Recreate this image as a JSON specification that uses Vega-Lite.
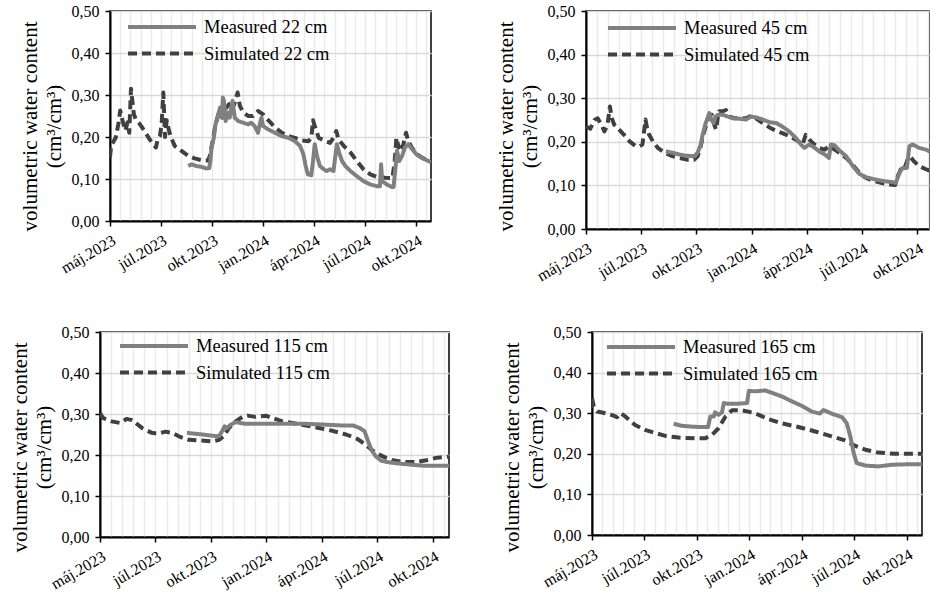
{
  "$schema": "https://vega.github.io/schema/vega-lite/v6.json",
  "background": "white",
  "padding": {"left": 7, "top": 2, "right": 0, "bottom": 0},
  "config": {
    "font": "Liberation Serif",
    "view": {"stroke": "#000", "strokeWidth": 1.5},
    "axis": {
      "labelFont": "Liberation Serif", "labelFontSize": 16, "labelColor": "#000",
      "titleFont": "Liberation Serif", "titleFontSize": 21, "titleFontWeight": "normal", "titleColor": "#000",
      "domainColor": "#000", "domainWidth": 2, "tickColor": "#000", "tickWidth": 1.5, "tickSize": 5
    },
    "axisX": {"gridColor": "#ebebeb", "gridWidth": 1.5, "labelAngle": -30, "labelOverlap": false, "labelFlush": false, "labelPadding": 6},
    "axisY": {"gridColor": "#d9d9d9", "gridWidth": 1.5, "labelPadding": 6, "titlePadding": 7, "titleLineHeight": 24, "titleY": 115},
    "legend": {
      "labelFont": "Liberation Serif", "labelFontSize": 18.5, "labelColor": "#000",
      "symbolSize": 4624, "symbolStrokeWidth": 4, "clipHeight": 20, "rowPadding": 6.5,
      "labelOffset": 6, "padding": 0
    },
    "line": {"strokeWidth": 4, "strokeJoin": "round"}
  },
  "datasets": {
    "d22": [
      {"d": "2023-05-01", "v": 0.152, "s": "Simulated 22 cm"},
      {"d": "2023-05-03", "v": 0.179, "s": "Simulated 22 cm"},
      {"d": "2023-05-11", "v": 0.198, "s": "Simulated 22 cm"},
      {"d": "2023-05-16", "v": 0.233, "s": "Simulated 22 cm"},
      {"d": "2023-05-19", "v": 0.263, "s": "Simulated 22 cm"},
      {"d": "2023-05-23", "v": 0.240, "s": "Simulated 22 cm"},
      {"d": "2023-05-28", "v": 0.215, "s": "Simulated 22 cm"},
      {"d": "2023-06-01", "v": 0.235, "s": "Simulated 22 cm"},
      {"d": "2023-06-04", "v": 0.210, "s": "Simulated 22 cm"},
      {"d": "2023-06-07", "v": 0.315, "s": "Simulated 22 cm"},
      {"d": "2023-06-09", "v": 0.290, "s": "Simulated 22 cm"},
      {"d": "2023-06-12", "v": 0.255, "s": "Simulated 22 cm"},
      {"d": "2023-06-16", "v": 0.240, "s": "Simulated 22 cm"},
      {"d": "2023-06-22", "v": 0.232, "s": "Simulated 22 cm"},
      {"d": "2023-07-01", "v": 0.214, "s": "Simulated 22 cm"},
      {"d": "2023-07-10", "v": 0.194, "s": "Simulated 22 cm"},
      {"d": "2023-07-21", "v": 0.175, "s": "Simulated 22 cm"},
      {"d": "2023-07-24", "v": 0.194, "s": "Simulated 22 cm"},
      {"d": "2023-07-28", "v": 0.202, "s": "Simulated 22 cm"},
      {"d": "2023-07-31", "v": 0.230, "s": "Simulated 22 cm"},
      {"d": "2023-08-03", "v": 0.306, "s": "Simulated 22 cm"},
      {"d": "2023-08-06", "v": 0.200, "s": "Simulated 22 cm"},
      {"d": "2023-08-09", "v": 0.240, "s": "Simulated 22 cm"},
      {"d": "2023-08-13", "v": 0.215, "s": "Simulated 22 cm"},
      {"d": "2023-08-17", "v": 0.198, "s": "Simulated 22 cm"},
      {"d": "2023-08-23", "v": 0.179, "s": "Simulated 22 cm"},
      {"d": "2023-09-04", "v": 0.167, "s": "Simulated 22 cm"},
      {"d": "2023-09-16", "v": 0.155, "s": "Simulated 22 cm"},
      {"d": "2023-09-27", "v": 0.149, "s": "Simulated 22 cm"},
      {"d": "2023-10-12", "v": 0.144, "s": "Simulated 22 cm"},
      {"d": "2023-10-21", "v": 0.144, "s": "Simulated 22 cm"},
      {"d": "2023-10-24", "v": 0.155, "s": "Simulated 22 cm"},
      {"d": "2023-10-29", "v": 0.190, "s": "Simulated 22 cm"},
      {"d": "2023-11-02", "v": 0.222, "s": "Simulated 22 cm"},
      {"d": "2023-11-08", "v": 0.254, "s": "Simulated 22 cm"},
      {"d": "2023-11-12", "v": 0.262, "s": "Simulated 22 cm"},
      {"d": "2023-11-16", "v": 0.246, "s": "Simulated 22 cm"},
      {"d": "2023-11-22", "v": 0.270, "s": "Simulated 22 cm"},
      {"d": "2023-11-27", "v": 0.278, "s": "Simulated 22 cm"},
      {"d": "2023-12-01", "v": 0.262, "s": "Simulated 22 cm"},
      {"d": "2023-12-06", "v": 0.278, "s": "Simulated 22 cm"},
      {"d": "2023-12-12", "v": 0.306, "s": "Simulated 22 cm"},
      {"d": "2023-12-16", "v": 0.274, "s": "Simulated 22 cm"},
      {"d": "2023-12-22", "v": 0.258, "s": "Simulated 22 cm"},
      {"d": "2023-12-31", "v": 0.250, "s": "Simulated 22 cm"},
      {"d": "2024-01-08", "v": 0.250, "s": "Simulated 22 cm"},
      {"d": "2024-01-17", "v": 0.262, "s": "Simulated 22 cm"},
      {"d": "2024-01-26", "v": 0.254, "s": "Simulated 22 cm"},
      {"d": "2024-02-04", "v": 0.240, "s": "Simulated 22 cm"},
      {"d": "2024-02-16", "v": 0.223, "s": "Simulated 22 cm"},
      {"d": "2024-02-28", "v": 0.210, "s": "Simulated 22 cm"},
      {"d": "2024-03-11", "v": 0.202, "s": "Simulated 22 cm"},
      {"d": "2024-03-22", "v": 0.198, "s": "Simulated 22 cm"},
      {"d": "2024-04-03", "v": 0.192, "s": "Simulated 22 cm"},
      {"d": "2024-04-15", "v": 0.190, "s": "Simulated 22 cm"},
      {"d": "2024-04-20", "v": 0.198, "s": "Simulated 22 cm"},
      {"d": "2024-04-23", "v": 0.240, "s": "Simulated 22 cm"},
      {"d": "2024-04-27", "v": 0.222, "s": "Simulated 22 cm"},
      {"d": "2024-05-03", "v": 0.198, "s": "Simulated 22 cm"},
      {"d": "2024-05-12", "v": 0.192, "s": "Simulated 22 cm"},
      {"d": "2024-05-23", "v": 0.186, "s": "Simulated 22 cm"},
      {"d": "2024-05-29", "v": 0.198, "s": "Simulated 22 cm"},
      {"d": "2024-06-03", "v": 0.214, "s": "Simulated 22 cm"},
      {"d": "2024-06-07", "v": 0.194, "s": "Simulated 22 cm"},
      {"d": "2024-06-16", "v": 0.179, "s": "Simulated 22 cm"},
      {"d": "2024-06-28", "v": 0.163, "s": "Simulated 22 cm"},
      {"d": "2024-07-09", "v": 0.143, "s": "Simulated 22 cm"},
      {"d": "2024-07-21", "v": 0.123, "s": "Simulated 22 cm"},
      {"d": "2024-08-02", "v": 0.111, "s": "Simulated 22 cm"},
      {"d": "2024-08-13", "v": 0.105, "s": "Simulated 22 cm"},
      {"d": "2024-08-28", "v": 0.103, "s": "Simulated 22 cm"},
      {"d": "2024-09-10", "v": 0.102, "s": "Simulated 22 cm"},
      {"d": "2024-09-14", "v": 0.143, "s": "Simulated 22 cm"},
      {"d": "2024-09-17", "v": 0.198, "s": "Simulated 22 cm"},
      {"d": "2024-09-21", "v": 0.175, "s": "Simulated 22 cm"},
      {"d": "2024-09-26", "v": 0.186, "s": "Simulated 22 cm"},
      {"d": "2024-09-28", "v": 0.175, "s": "Simulated 22 cm"},
      {"d": "2024-10-04", "v": 0.210, "s": "Simulated 22 cm"},
      {"d": "2024-10-08", "v": 0.190, "s": "Simulated 22 cm"},
      {"d": "2024-10-14", "v": 0.175, "s": "Simulated 22 cm"},
      {"d": "2024-10-23", "v": 0.159, "s": "Simulated 22 cm"},
      {"d": "2024-11-01", "v": 0.151, "s": "Simulated 22 cm"},
      {"d": "2024-11-17", "v": 0.141, "s": "Simulated 22 cm"},
      {"d": "2023-09-16", "v": 0.131, "s": "Measured 22 cm"},
      {"d": "2023-09-22", "v": 0.135, "s": "Measured 22 cm"},
      {"d": "2023-09-30", "v": 0.131, "s": "Measured 22 cm"},
      {"d": "2023-10-09", "v": 0.129, "s": "Measured 22 cm"},
      {"d": "2023-10-18", "v": 0.125, "s": "Measured 22 cm"},
      {"d": "2023-10-23", "v": 0.126, "s": "Measured 22 cm"},
      {"d": "2023-10-25", "v": 0.143, "s": "Measured 22 cm"},
      {"d": "2023-10-27", "v": 0.175, "s": "Measured 22 cm"},
      {"d": "2023-10-31", "v": 0.198, "s": "Measured 22 cm"},
      {"d": "2023-11-03", "v": 0.230, "s": "Measured 22 cm"},
      {"d": "2023-11-08", "v": 0.254, "s": "Measured 22 cm"},
      {"d": "2023-11-11", "v": 0.270, "s": "Measured 22 cm"},
      {"d": "2023-11-14", "v": 0.246, "s": "Measured 22 cm"},
      {"d": "2023-11-16", "v": 0.294, "s": "Measured 22 cm"},
      {"d": "2023-11-18", "v": 0.286, "s": "Measured 22 cm"},
      {"d": "2023-11-21", "v": 0.238, "s": "Measured 22 cm"},
      {"d": "2023-11-25", "v": 0.258, "s": "Measured 22 cm"},
      {"d": "2023-11-28", "v": 0.246, "s": "Measured 22 cm"},
      {"d": "2023-12-03", "v": 0.286, "s": "Measured 22 cm"},
      {"d": "2023-12-07", "v": 0.246, "s": "Measured 22 cm"},
      {"d": "2023-12-13", "v": 0.238, "s": "Measured 22 cm"},
      {"d": "2023-12-22", "v": 0.234, "s": "Measured 22 cm"},
      {"d": "2023-12-31", "v": 0.230, "s": "Measured 22 cm"},
      {"d": "2024-01-05", "v": 0.234, "s": "Measured 22 cm"},
      {"d": "2024-01-11", "v": 0.226, "s": "Measured 22 cm"},
      {"d": "2024-01-17", "v": 0.210, "s": "Measured 22 cm"},
      {"d": "2024-01-20", "v": 0.230, "s": "Measured 22 cm"},
      {"d": "2024-01-23", "v": 0.246, "s": "Measured 22 cm"},
      {"d": "2024-01-26", "v": 0.226, "s": "Measured 22 cm"},
      {"d": "2024-02-04", "v": 0.218, "s": "Measured 22 cm"},
      {"d": "2024-02-16", "v": 0.210, "s": "Measured 22 cm"},
      {"d": "2024-02-28", "v": 0.202, "s": "Measured 22 cm"},
      {"d": "2024-03-11", "v": 0.198, "s": "Measured 22 cm"},
      {"d": "2024-03-22", "v": 0.190, "s": "Measured 22 cm"},
      {"d": "2024-03-31", "v": 0.179, "s": "Measured 22 cm"},
      {"d": "2024-04-06", "v": 0.159, "s": "Measured 22 cm"},
      {"d": "2024-04-10", "v": 0.131, "s": "Measured 22 cm"},
      {"d": "2024-04-14", "v": 0.111, "s": "Measured 22 cm"},
      {"d": "2024-04-20", "v": 0.109, "s": "Measured 22 cm"},
      {"d": "2024-04-23", "v": 0.143, "s": "Measured 22 cm"},
      {"d": "2024-04-26", "v": 0.183, "s": "Measured 22 cm"},
      {"d": "2024-04-30", "v": 0.155, "s": "Measured 22 cm"},
      {"d": "2024-05-05", "v": 0.131, "s": "Measured 22 cm"},
      {"d": "2024-05-12", "v": 0.123, "s": "Measured 22 cm"},
      {"d": "2024-05-17", "v": 0.119, "s": "Measured 22 cm"},
      {"d": "2024-05-23", "v": 0.123, "s": "Measured 22 cm"},
      {"d": "2024-05-29", "v": 0.119, "s": "Measured 22 cm"},
      {"d": "2024-06-01", "v": 0.151, "s": "Measured 22 cm"},
      {"d": "2024-06-04", "v": 0.183, "s": "Measured 22 cm"},
      {"d": "2024-06-08", "v": 0.163, "s": "Measured 22 cm"},
      {"d": "2024-06-13", "v": 0.143, "s": "Measured 22 cm"},
      {"d": "2024-06-19", "v": 0.131, "s": "Measured 22 cm"},
      {"d": "2024-06-28", "v": 0.119, "s": "Measured 22 cm"},
      {"d": "2024-07-09", "v": 0.107, "s": "Measured 22 cm"},
      {"d": "2024-07-21", "v": 0.095, "s": "Measured 22 cm"},
      {"d": "2024-08-02", "v": 0.087, "s": "Measured 22 cm"},
      {"d": "2024-08-13", "v": 0.083, "s": "Measured 22 cm"},
      {"d": "2024-08-19", "v": 0.083, "s": "Measured 22 cm"},
      {"d": "2024-08-21", "v": 0.135, "s": "Measured 22 cm"},
      {"d": "2024-08-23", "v": 0.095, "s": "Measured 22 cm"},
      {"d": "2024-08-31", "v": 0.087, "s": "Measured 22 cm"},
      {"d": "2024-09-09", "v": 0.081, "s": "Measured 22 cm"},
      {"d": "2024-09-12", "v": 0.081, "s": "Measured 22 cm"},
      {"d": "2024-09-16", "v": 0.135, "s": "Measured 22 cm"},
      {"d": "2024-09-18", "v": 0.167, "s": "Measured 22 cm"},
      {"d": "2024-09-22", "v": 0.143, "s": "Measured 22 cm"},
      {"d": "2024-09-27", "v": 0.155, "s": "Measured 22 cm"},
      {"d": "2024-10-02", "v": 0.175, "s": "Measured 22 cm"},
      {"d": "2024-10-08", "v": 0.183, "s": "Measured 22 cm"},
      {"d": "2024-10-14", "v": 0.172, "s": "Measured 22 cm"},
      {"d": "2024-10-23", "v": 0.158, "s": "Measured 22 cm"},
      {"d": "2024-11-01", "v": 0.150, "s": "Measured 22 cm"},
      {"d": "2024-11-17", "v": 0.140, "s": "Measured 22 cm"}
    ],
    "d45": [
      {"d": "2023-05-01", "v": 0.235, "s": "Simulated 45 cm"},
      {"d": "2023-05-08", "v": 0.230, "s": "Simulated 45 cm"},
      {"d": "2023-05-15", "v": 0.250, "s": "Simulated 45 cm"},
      {"d": "2023-05-20", "v": 0.254, "s": "Simulated 45 cm"},
      {"d": "2023-05-26", "v": 0.239, "s": "Simulated 45 cm"},
      {"d": "2023-05-31", "v": 0.224, "s": "Simulated 45 cm"},
      {"d": "2023-06-05", "v": 0.239, "s": "Simulated 45 cm"},
      {"d": "2023-06-09", "v": 0.281, "s": "Simulated 45 cm"},
      {"d": "2023-06-12", "v": 0.254, "s": "Simulated 45 cm"},
      {"d": "2023-06-16", "v": 0.239, "s": "Simulated 45 cm"},
      {"d": "2023-06-24", "v": 0.228, "s": "Simulated 45 cm"},
      {"d": "2023-07-02", "v": 0.216, "s": "Simulated 45 cm"},
      {"d": "2023-07-11", "v": 0.201, "s": "Simulated 45 cm"},
      {"d": "2023-07-21", "v": 0.190, "s": "Simulated 45 cm"},
      {"d": "2023-07-27", "v": 0.190, "s": "Simulated 45 cm"},
      {"d": "2023-08-01", "v": 0.194, "s": "Simulated 45 cm"},
      {"d": "2023-08-06", "v": 0.251, "s": "Simulated 45 cm"},
      {"d": "2023-08-08", "v": 0.235, "s": "Simulated 45 cm"},
      {"d": "2023-08-12", "v": 0.216, "s": "Simulated 45 cm"},
      {"d": "2023-08-18", "v": 0.201, "s": "Simulated 45 cm"},
      {"d": "2023-08-26", "v": 0.186, "s": "Simulated 45 cm"},
      {"d": "2023-09-06", "v": 0.175, "s": "Simulated 45 cm"},
      {"d": "2023-09-17", "v": 0.168, "s": "Simulated 45 cm"},
      {"d": "2023-09-30", "v": 0.163, "s": "Simulated 45 cm"},
      {"d": "2023-10-14", "v": 0.159, "s": "Simulated 45 cm"},
      {"d": "2023-10-24", "v": 0.159, "s": "Simulated 45 cm"},
      {"d": "2023-10-30", "v": 0.167, "s": "Simulated 45 cm"},
      {"d": "2023-11-04", "v": 0.190, "s": "Simulated 45 cm"},
      {"d": "2023-11-08", "v": 0.216, "s": "Simulated 45 cm"},
      {"d": "2023-11-13", "v": 0.239, "s": "Simulated 45 cm"},
      {"d": "2023-11-17", "v": 0.258, "s": "Simulated 45 cm"},
      {"d": "2023-11-22", "v": 0.262, "s": "Simulated 45 cm"},
      {"d": "2023-11-26", "v": 0.239, "s": "Simulated 45 cm"},
      {"d": "2023-11-29", "v": 0.228, "s": "Simulated 45 cm"},
      {"d": "2023-12-02", "v": 0.258, "s": "Simulated 45 cm"},
      {"d": "2023-12-04", "v": 0.270, "s": "Simulated 45 cm"},
      {"d": "2023-12-10", "v": 0.270, "s": "Simulated 45 cm"},
      {"d": "2023-12-15", "v": 0.273, "s": "Simulated 45 cm"},
      {"d": "2023-12-21", "v": 0.258, "s": "Simulated 45 cm"},
      {"d": "2023-12-29", "v": 0.254, "s": "Simulated 45 cm"},
      {"d": "2024-01-06", "v": 0.254, "s": "Simulated 45 cm"},
      {"d": "2024-01-17", "v": 0.254, "s": "Simulated 45 cm"},
      {"d": "2024-01-25", "v": 0.260, "s": "Simulated 45 cm"},
      {"d": "2024-02-02", "v": 0.254, "s": "Simulated 45 cm"},
      {"d": "2024-02-13", "v": 0.243, "s": "Simulated 45 cm"},
      {"d": "2024-02-24", "v": 0.233, "s": "Simulated 45 cm"},
      {"d": "2024-03-06", "v": 0.225, "s": "Simulated 45 cm"},
      {"d": "2024-03-16", "v": 0.220, "s": "Simulated 45 cm"},
      {"d": "2024-03-27", "v": 0.213, "s": "Simulated 45 cm"},
      {"d": "2024-04-07", "v": 0.205, "s": "Simulated 45 cm"},
      {"d": "2024-04-18", "v": 0.194, "s": "Simulated 45 cm"},
      {"d": "2024-04-23", "v": 0.216, "s": "Simulated 45 cm"},
      {"d": "2024-04-29", "v": 0.205, "s": "Simulated 45 cm"},
      {"d": "2024-05-07", "v": 0.194, "s": "Simulated 45 cm"},
      {"d": "2024-05-15", "v": 0.186, "s": "Simulated 45 cm"},
      {"d": "2024-05-24", "v": 0.182, "s": "Simulated 45 cm"},
      {"d": "2024-05-31", "v": 0.190, "s": "Simulated 45 cm"},
      {"d": "2024-06-09", "v": 0.182, "s": "Simulated 45 cm"},
      {"d": "2024-06-17", "v": 0.175, "s": "Simulated 45 cm"},
      {"d": "2024-06-28", "v": 0.163, "s": "Simulated 45 cm"},
      {"d": "2024-07-06", "v": 0.152, "s": "Simulated 45 cm"},
      {"d": "2024-07-17", "v": 0.133, "s": "Simulated 45 cm"},
      {"d": "2024-07-28", "v": 0.119, "s": "Simulated 45 cm"},
      {"d": "2024-08-10", "v": 0.111, "s": "Simulated 45 cm"},
      {"d": "2024-08-24", "v": 0.106, "s": "Simulated 45 cm"},
      {"d": "2024-09-06", "v": 0.102, "s": "Simulated 45 cm"},
      {"d": "2024-09-16", "v": 0.101, "s": "Simulated 45 cm"},
      {"d": "2024-09-20", "v": 0.121, "s": "Simulated 45 cm"},
      {"d": "2024-09-25", "v": 0.137, "s": "Simulated 45 cm"},
      {"d": "2024-10-01", "v": 0.139, "s": "Simulated 45 cm"},
      {"d": "2024-10-06", "v": 0.159, "s": "Simulated 45 cm"},
      {"d": "2024-10-10", "v": 0.167, "s": "Simulated 45 cm"},
      {"d": "2024-10-16", "v": 0.156, "s": "Simulated 45 cm"},
      {"d": "2024-10-25", "v": 0.144, "s": "Simulated 45 cm"},
      {"d": "2024-11-05", "v": 0.137, "s": "Simulated 45 cm"},
      {"d": "2024-11-17", "v": 0.130, "s": "Simulated 45 cm"},
      {"d": "2023-09-08", "v": 0.178, "s": "Measured 45 cm"},
      {"d": "2023-09-19", "v": 0.175, "s": "Measured 45 cm"},
      {"d": "2023-09-30", "v": 0.171, "s": "Measured 45 cm"},
      {"d": "2023-10-11", "v": 0.168, "s": "Measured 45 cm"},
      {"d": "2023-10-25", "v": 0.167, "s": "Measured 45 cm"},
      {"d": "2023-10-30", "v": 0.175, "s": "Measured 45 cm"},
      {"d": "2023-11-04", "v": 0.194, "s": "Measured 45 cm"},
      {"d": "2023-11-07", "v": 0.216, "s": "Measured 45 cm"},
      {"d": "2023-11-12", "v": 0.243, "s": "Measured 45 cm"},
      {"d": "2023-11-15", "v": 0.254, "s": "Measured 45 cm"},
      {"d": "2023-11-18", "v": 0.266, "s": "Measured 45 cm"},
      {"d": "2023-11-21", "v": 0.251, "s": "Measured 45 cm"},
      {"d": "2023-11-25", "v": 0.243, "s": "Measured 45 cm"},
      {"d": "2023-11-28", "v": 0.258, "s": "Measured 45 cm"},
      {"d": "2023-12-02", "v": 0.262, "s": "Measured 45 cm"},
      {"d": "2023-12-10", "v": 0.262, "s": "Measured 45 cm"},
      {"d": "2023-12-18", "v": 0.258, "s": "Measured 45 cm"},
      {"d": "2023-12-26", "v": 0.254, "s": "Measured 45 cm"},
      {"d": "2024-01-06", "v": 0.253, "s": "Measured 45 cm"},
      {"d": "2024-01-17", "v": 0.251, "s": "Measured 45 cm"},
      {"d": "2024-01-25", "v": 0.258, "s": "Measured 45 cm"},
      {"d": "2024-02-02", "v": 0.256, "s": "Measured 45 cm"},
      {"d": "2024-02-13", "v": 0.251, "s": "Measured 45 cm"},
      {"d": "2024-02-24", "v": 0.245, "s": "Measured 45 cm"},
      {"d": "2024-03-06", "v": 0.243, "s": "Measured 45 cm"},
      {"d": "2024-03-16", "v": 0.235, "s": "Measured 45 cm"},
      {"d": "2024-03-27", "v": 0.224, "s": "Measured 45 cm"},
      {"d": "2024-04-07", "v": 0.209, "s": "Measured 45 cm"},
      {"d": "2024-04-15", "v": 0.194, "s": "Measured 45 cm"},
      {"d": "2024-04-21", "v": 0.186, "s": "Measured 45 cm"},
      {"d": "2024-04-29", "v": 0.194, "s": "Measured 45 cm"},
      {"d": "2024-05-07", "v": 0.187, "s": "Measured 45 cm"},
      {"d": "2024-05-15", "v": 0.178, "s": "Measured 45 cm"},
      {"d": "2024-05-24", "v": 0.171, "s": "Measured 45 cm"},
      {"d": "2024-05-31", "v": 0.163, "s": "Measured 45 cm"},
      {"d": "2024-06-03", "v": 0.194, "s": "Measured 45 cm"},
      {"d": "2024-06-09", "v": 0.192, "s": "Measured 45 cm"},
      {"d": "2024-06-17", "v": 0.180, "s": "Measured 45 cm"},
      {"d": "2024-06-28", "v": 0.167, "s": "Measured 45 cm"},
      {"d": "2024-07-09", "v": 0.144, "s": "Measured 45 cm"},
      {"d": "2024-07-19", "v": 0.127, "s": "Measured 45 cm"},
      {"d": "2024-07-30", "v": 0.119, "s": "Measured 45 cm"},
      {"d": "2024-08-13", "v": 0.114, "s": "Measured 45 cm"},
      {"d": "2024-08-27", "v": 0.110, "s": "Measured 45 cm"},
      {"d": "2024-09-09", "v": 0.108, "s": "Measured 45 cm"},
      {"d": "2024-09-17", "v": 0.106, "s": "Measured 45 cm"},
      {"d": "2024-09-23", "v": 0.129, "s": "Measured 45 cm"},
      {"d": "2024-09-28", "v": 0.140, "s": "Measured 45 cm"},
      {"d": "2024-10-05", "v": 0.140, "s": "Measured 45 cm"},
      {"d": "2024-10-09", "v": 0.190, "s": "Measured 45 cm"},
      {"d": "2024-10-14", "v": 0.194, "s": "Measured 45 cm"},
      {"d": "2024-10-25", "v": 0.186, "s": "Measured 45 cm"},
      {"d": "2024-11-05", "v": 0.182, "s": "Measured 45 cm"},
      {"d": "2024-11-17", "v": 0.174, "s": "Measured 45 cm"}
    ],
    "d115": [
      {"d": "2023-05-01", "v": 0.302, "s": "Simulated 115 cm"},
      {"d": "2023-05-06", "v": 0.290, "s": "Simulated 115 cm"},
      {"d": "2023-05-20", "v": 0.282, "s": "Simulated 115 cm"},
      {"d": "2023-06-03", "v": 0.278, "s": "Simulated 115 cm"},
      {"d": "2023-06-13", "v": 0.288, "s": "Simulated 115 cm"},
      {"d": "2023-06-22", "v": 0.285, "s": "Simulated 115 cm"},
      {"d": "2023-07-08", "v": 0.266, "s": "Simulated 115 cm"},
      {"d": "2023-07-24", "v": 0.254, "s": "Simulated 115 cm"},
      {"d": "2023-08-04", "v": 0.252, "s": "Simulated 115 cm"},
      {"d": "2023-08-15", "v": 0.257, "s": "Simulated 115 cm"},
      {"d": "2023-08-26", "v": 0.254, "s": "Simulated 115 cm"},
      {"d": "2023-09-08", "v": 0.244, "s": "Simulated 115 cm"},
      {"d": "2023-09-22", "v": 0.237, "s": "Simulated 115 cm"},
      {"d": "2023-10-08", "v": 0.236, "s": "Simulated 115 cm"},
      {"d": "2023-10-30", "v": 0.233, "s": "Simulated 115 cm"},
      {"d": "2023-11-10", "v": 0.237, "s": "Simulated 115 cm"},
      {"d": "2023-11-18", "v": 0.246, "s": "Simulated 115 cm"},
      {"d": "2023-11-26", "v": 0.266, "s": "Simulated 115 cm"},
      {"d": "2023-12-07", "v": 0.282, "s": "Simulated 115 cm"},
      {"d": "2023-12-18", "v": 0.293, "s": "Simulated 115 cm"},
      {"d": "2023-12-26", "v": 0.296, "s": "Simulated 115 cm"},
      {"d": "2024-01-08", "v": 0.293, "s": "Simulated 115 cm"},
      {"d": "2024-01-25", "v": 0.296, "s": "Simulated 115 cm"},
      {"d": "2024-02-05", "v": 0.290, "s": "Simulated 115 cm"},
      {"d": "2024-02-21", "v": 0.282, "s": "Simulated 115 cm"},
      {"d": "2024-03-08", "v": 0.278, "s": "Simulated 115 cm"},
      {"d": "2024-03-30", "v": 0.272, "s": "Simulated 115 cm"},
      {"d": "2024-04-20", "v": 0.266, "s": "Simulated 115 cm"},
      {"d": "2024-05-12", "v": 0.259, "s": "Simulated 115 cm"},
      {"d": "2024-06-03", "v": 0.250, "s": "Simulated 115 cm"},
      {"d": "2024-06-22", "v": 0.239, "s": "Simulated 115 cm"},
      {"d": "2024-07-05", "v": 0.225, "s": "Simulated 115 cm"},
      {"d": "2024-07-16", "v": 0.211, "s": "Simulated 115 cm"},
      {"d": "2024-07-27", "v": 0.201, "s": "Simulated 115 cm"},
      {"d": "2024-08-07", "v": 0.193, "s": "Simulated 115 cm"},
      {"d": "2024-08-18", "v": 0.187, "s": "Simulated 115 cm"},
      {"d": "2024-09-03", "v": 0.183, "s": "Simulated 115 cm"},
      {"d": "2024-09-25", "v": 0.183, "s": "Simulated 115 cm"},
      {"d": "2024-10-11", "v": 0.187, "s": "Simulated 115 cm"},
      {"d": "2024-10-27", "v": 0.193, "s": "Simulated 115 cm"},
      {"d": "2024-11-17", "v": 0.196, "s": "Simulated 115 cm"},
      {"d": "2023-09-19", "v": 0.254, "s": "Measured 115 cm"},
      {"d": "2023-10-08", "v": 0.251, "s": "Measured 115 cm"},
      {"d": "2023-10-30", "v": 0.247, "s": "Measured 115 cm"},
      {"d": "2023-11-10", "v": 0.246, "s": "Measured 115 cm"},
      {"d": "2023-11-15", "v": 0.258, "s": "Measured 115 cm"},
      {"d": "2023-11-19", "v": 0.270, "s": "Measured 115 cm"},
      {"d": "2023-11-23", "v": 0.266, "s": "Measured 115 cm"},
      {"d": "2023-11-29", "v": 0.274, "s": "Measured 115 cm"},
      {"d": "2023-12-07", "v": 0.280, "s": "Measured 115 cm"},
      {"d": "2023-12-23", "v": 0.276, "s": "Measured 115 cm"},
      {"d": "2024-01-25", "v": 0.276, "s": "Measured 115 cm"},
      {"d": "2024-02-26", "v": 0.276, "s": "Measured 115 cm"},
      {"d": "2024-03-30", "v": 0.276, "s": "Measured 115 cm"},
      {"d": "2024-05-01", "v": 0.274, "s": "Measured 115 cm"},
      {"d": "2024-05-28", "v": 0.272, "s": "Measured 115 cm"},
      {"d": "2024-06-14", "v": 0.272, "s": "Measured 115 cm"},
      {"d": "2024-06-25", "v": 0.266, "s": "Measured 115 cm"},
      {"d": "2024-07-03", "v": 0.258, "s": "Measured 115 cm"},
      {"d": "2024-07-08", "v": 0.237, "s": "Measured 115 cm"},
      {"d": "2024-07-14", "v": 0.213, "s": "Measured 115 cm"},
      {"d": "2024-07-21", "v": 0.197, "s": "Measured 115 cm"},
      {"d": "2024-07-30", "v": 0.186, "s": "Measured 115 cm"},
      {"d": "2024-08-12", "v": 0.182, "s": "Measured 115 cm"},
      {"d": "2024-08-29", "v": 0.179, "s": "Measured 115 cm"},
      {"d": "2024-09-19", "v": 0.176, "s": "Measured 115 cm"},
      {"d": "2024-10-06", "v": 0.174, "s": "Measured 115 cm"},
      {"d": "2024-10-22", "v": 0.174, "s": "Measured 115 cm"},
      {"d": "2024-11-17", "v": 0.174, "s": "Measured 115 cm"}
    ],
    "d165": [
      {"d": "2023-05-01", "v": 0.337, "s": "Simulated 165 cm"},
      {"d": "2023-05-04", "v": 0.317, "s": "Simulated 165 cm"},
      {"d": "2023-05-10", "v": 0.304, "s": "Simulated 165 cm"},
      {"d": "2023-05-24", "v": 0.300, "s": "Simulated 165 cm"},
      {"d": "2023-06-07", "v": 0.294, "s": "Simulated 165 cm"},
      {"d": "2023-06-13", "v": 0.290, "s": "Simulated 165 cm"},
      {"d": "2023-06-19", "v": 0.300, "s": "Simulated 165 cm"},
      {"d": "2023-06-27", "v": 0.292, "s": "Simulated 165 cm"},
      {"d": "2023-07-14", "v": 0.271, "s": "Simulated 165 cm"},
      {"d": "2023-07-31", "v": 0.259, "s": "Simulated 165 cm"},
      {"d": "2023-08-18", "v": 0.251, "s": "Simulated 165 cm"},
      {"d": "2023-09-04", "v": 0.244, "s": "Simulated 165 cm"},
      {"d": "2023-09-27", "v": 0.240, "s": "Simulated 165 cm"},
      {"d": "2023-10-25", "v": 0.238, "s": "Simulated 165 cm"},
      {"d": "2023-11-11", "v": 0.238, "s": "Simulated 165 cm"},
      {"d": "2023-11-23", "v": 0.247, "s": "Simulated 165 cm"},
      {"d": "2023-12-04", "v": 0.263, "s": "Simulated 165 cm"},
      {"d": "2023-12-16", "v": 0.292, "s": "Simulated 165 cm"},
      {"d": "2023-12-27", "v": 0.307, "s": "Simulated 165 cm"},
      {"d": "2024-01-13", "v": 0.307, "s": "Simulated 165 cm"},
      {"d": "2024-01-30", "v": 0.302, "s": "Simulated 165 cm"},
      {"d": "2024-02-11", "v": 0.296, "s": "Simulated 165 cm"},
      {"d": "2024-02-28", "v": 0.285, "s": "Simulated 165 cm"},
      {"d": "2024-03-22", "v": 0.275, "s": "Simulated 165 cm"},
      {"d": "2024-04-19", "v": 0.266, "s": "Simulated 165 cm"},
      {"d": "2024-05-18", "v": 0.255, "s": "Simulated 165 cm"},
      {"d": "2024-06-15", "v": 0.243, "s": "Simulated 165 cm"},
      {"d": "2024-07-08", "v": 0.233, "s": "Simulated 165 cm"},
      {"d": "2024-07-25", "v": 0.220, "s": "Simulated 165 cm"},
      {"d": "2024-08-12", "v": 0.210, "s": "Simulated 165 cm"},
      {"d": "2024-09-03", "v": 0.203, "s": "Simulated 165 cm"},
      {"d": "2024-10-02", "v": 0.200, "s": "Simulated 165 cm"},
      {"d": "2024-11-17", "v": 0.200, "s": "Simulated 165 cm"},
      {"d": "2023-09-18", "v": 0.274, "s": "Measured 165 cm"},
      {"d": "2023-10-02", "v": 0.269, "s": "Measured 165 cm"},
      {"d": "2023-10-19", "v": 0.267, "s": "Measured 165 cm"},
      {"d": "2023-10-31", "v": 0.266, "s": "Measured 165 cm"},
      {"d": "2023-11-16", "v": 0.266, "s": "Measured 165 cm"},
      {"d": "2023-11-20", "v": 0.292, "s": "Measured 165 cm"},
      {"d": "2023-11-26", "v": 0.292, "s": "Measured 165 cm"},
      {"d": "2023-11-28", "v": 0.302, "s": "Measured 165 cm"},
      {"d": "2023-12-04", "v": 0.296, "s": "Measured 165 cm"},
      {"d": "2023-12-10", "v": 0.302, "s": "Measured 165 cm"},
      {"d": "2023-12-13", "v": 0.325, "s": "Measured 165 cm"},
      {"d": "2023-12-21", "v": 0.323, "s": "Measured 165 cm"},
      {"d": "2024-01-02", "v": 0.323, "s": "Measured 165 cm"},
      {"d": "2024-01-22", "v": 0.325, "s": "Measured 165 cm"},
      {"d": "2024-01-25", "v": 0.355, "s": "Measured 165 cm"},
      {"d": "2024-02-05", "v": 0.354, "s": "Measured 165 cm"},
      {"d": "2024-02-22", "v": 0.356, "s": "Measured 165 cm"},
      {"d": "2024-03-05", "v": 0.350, "s": "Measured 165 cm"},
      {"d": "2024-03-22", "v": 0.341, "s": "Measured 165 cm"},
      {"d": "2024-04-08", "v": 0.329, "s": "Measured 165 cm"},
      {"d": "2024-04-25", "v": 0.318, "s": "Measured 165 cm"},
      {"d": "2024-05-12", "v": 0.304, "s": "Measured 165 cm"},
      {"d": "2024-05-26", "v": 0.299, "s": "Measured 165 cm"},
      {"d": "2024-06-01", "v": 0.308, "s": "Measured 165 cm"},
      {"d": "2024-06-15", "v": 0.299, "s": "Measured 165 cm"},
      {"d": "2024-07-03", "v": 0.290, "s": "Measured 165 cm"},
      {"d": "2024-07-11", "v": 0.275, "s": "Measured 165 cm"},
      {"d": "2024-07-17", "v": 0.243, "s": "Measured 165 cm"},
      {"d": "2024-07-23", "v": 0.201, "s": "Measured 165 cm"},
      {"d": "2024-07-28", "v": 0.177, "s": "Measured 165 cm"},
      {"d": "2024-08-12", "v": 0.171, "s": "Measured 165 cm"},
      {"d": "2024-09-03", "v": 0.169, "s": "Measured 165 cm"},
      {"d": "2024-09-26", "v": 0.173, "s": "Measured 165 cm"},
      {"d": "2024-10-19", "v": 0.174, "s": "Measured 165 cm"},
      {"d": "2024-11-17", "v": 0.174, "s": "Measured 165 cm"}
    ]
  },
  "resolve": {
    "scale": {"color": "independent", "strokeDash": "independent"},
    "legend": {"color": "independent", "strokeDash": "independent"}
  },
  "vconcat": [
    {
      "spacing": 58,
      "resolve": {
        "scale": {"color": "independent", "strokeDash": "independent"},
        "legend": {"color": "independent", "strokeDash": "independent"}
      },
      "hconcat": [
        {
          "spacing": 0,
          "resolve": {
            "scale": {"color": "independent", "strokeDash": "independent"},
            "legend": {"color": "independent", "strokeDash": "independent"}
          },
          "hconcat": [
            {
              "width": 11, "height": 1,
              "view": {"stroke": null, "fill": "white"},
              "data": {"values": []},
              "mark": {"type": "point", "opacity": 0},
              "encoding": {}
            },
            {
              "width": 321, "height": 210,
              "data": {"name": "d22"},
              "mark": {"type": "line", "clip": true},
              "encoding": {
                "x": {"field": "d", "type": "temporal",
                  "scale": {"type": "utc", "domain": [{"year": 2023, "month": 5, "date": 1, "utc": true}, {"year": 2024, "month": 11, "date": 17, "utc": true}]},
                  "axis": {"title": null, "grid": true,
                    "values": [
                      {"year": 2023, "month": 5, "date": 1, "utc": true}, {"year": 2023, "month": 5, "date": 19, "utc": true},
                      {"year": 2023, "month": 6, "date": 6, "utc": true}, {"year": 2023, "month": 6, "date": 24, "utc": true},
                      {"year": 2023, "month": 7, "date": 12, "utc": true}, {"year": 2023, "month": 7, "date": 30, "utc": true},
                      {"year": 2023, "month": 8, "date": 17, "utc": true}, {"year": 2023, "month": 9, "date": 4, "utc": true},
                      {"year": 2023, "month": 9, "date": 22, "utc": true}, {"year": 2023, "month": 10, "date": 10, "utc": true},
                      {"year": 2023, "month": 10, "date": 28, "utc": true}, {"year": 2023, "month": 11, "date": 15, "utc": true},
                      {"year": 2023, "month": 12, "date": 3, "utc": true}, {"year": 2023, "month": 12, "date": 21, "utc": true},
                      {"year": 2024, "month": 1, "date": 8, "utc": true}, {"year": 2024, "month": 1, "date": 26, "utc": true},
                      {"year": 2024, "month": 2, "date": 13, "utc": true}, {"year": 2024, "month": 3, "date": 2, "utc": true},
                      {"year": 2024, "month": 3, "date": 20, "utc": true}, {"year": 2024, "month": 4, "date": 7, "utc": true},
                      {"year": 2024, "month": 4, "date": 25, "utc": true}, {"year": 2024, "month": 5, "date": 13, "utc": true},
                      {"year": 2024, "month": 5, "date": 31, "utc": true}, {"year": 2024, "month": 6, "date": 18, "utc": true},
                      {"year": 2024, "month": 7, "date": 6, "utc": true}, {"year": 2024, "month": 7, "date": 24, "utc": true},
                      {"year": 2024, "month": 8, "date": 11, "utc": true}, {"year": 2024, "month": 8, "date": 29, "utc": true},
                      {"year": 2024, "month": 9, "date": 16, "utc": true}, {"year": 2024, "month": 10, "date": 4, "utc": true},
                      {"year": 2024, "month": 10, "date": 22, "utc": true}, {"year": 2024, "month": 11, "date": 9, "utc": true}
                    ],
                    "labelExpr": "abs(((datum.value - utc(2023,4,1)) / 864e5) % 90) < 0.5 ? ['jan','febr','márc','ápr','máj','jún','júl','aug','szept','okt','nov','dec'][utcmonth(datum.value)] + '.' + utcyear(datum.value) : ''",
                    "tickOpacity": {"condition": {"test": "abs(((datum.value - utc(2023,4,1)) / 864e5) % 90) < 0.5", "value": 1}, "value": 0}
                  }
                },
                "y": {"field": "v", "type": "quantitative", "scale": {"domain": [0, 0.5]},
                  "axis": {"values": [0, 0.1, 0.2, 0.3, 0.4, 0.5], "labelExpr": "replace(format(datum.value, '.2f'), '.', ',')",
                    "title": ["volumetric water content", "(cm³/cm³)"]}},
                "color": {"field": "s", "type": "nominal", "scale": {"range": ["#808080", "#404040"]},
                  "legend": {"title": null, "orient": "none", "legendX": 16, "legendY": 6}},
                "strokeDash": {"field": "s", "type": "nominal", "scale": {"range": [[1, 0], [9, 5]]},
                  "legend": {"title": null, "orient": "none", "legendX": 16, "legendY": 6}}
              }
            }
          ]
        },
        {
          "width": 343, "height": 218,
          "data": {"name": "d45"},
          "mark": {"type": "line", "clip": true},
          "encoding": {
            "x": {"field": "d", "type": "temporal",
              "scale": {"type": "utc", "domain": [{"year": 2023, "month": 5, "date": 1, "utc": true}, {"year": 2024, "month": 11, "date": 10, "utc": true}]},
              "axis": {"title": null, "grid": true,
                "values": [
                  {"year": 2023, "month": 5, "date": 1, "utc": true}, {"year": 2023, "month": 5, "date": 19, "utc": true},
                  {"year": 2023, "month": 6, "date": 6, "utc": true}, {"year": 2023, "month": 6, "date": 24, "utc": true},
                  {"year": 2023, "month": 7, "date": 12, "utc": true}, {"year": 2023, "month": 7, "date": 30, "utc": true},
                  {"year": 2023, "month": 8, "date": 17, "utc": true}, {"year": 2023, "month": 9, "date": 4, "utc": true},
                  {"year": 2023, "month": 9, "date": 22, "utc": true}, {"year": 2023, "month": 10, "date": 10, "utc": true},
                  {"year": 2023, "month": 10, "date": 28, "utc": true}, {"year": 2023, "month": 11, "date": 15, "utc": true},
                  {"year": 2023, "month": 12, "date": 3, "utc": true}, {"year": 2023, "month": 12, "date": 21, "utc": true},
                  {"year": 2024, "month": 1, "date": 8, "utc": true}, {"year": 2024, "month": 1, "date": 26, "utc": true},
                  {"year": 2024, "month": 2, "date": 13, "utc": true}, {"year": 2024, "month": 3, "date": 2, "utc": true},
                  {"year": 2024, "month": 3, "date": 20, "utc": true}, {"year": 2024, "month": 4, "date": 7, "utc": true},
                  {"year": 2024, "month": 4, "date": 25, "utc": true}, {"year": 2024, "month": 5, "date": 13, "utc": true},
                  {"year": 2024, "month": 5, "date": 31, "utc": true}, {"year": 2024, "month": 6, "date": 18, "utc": true},
                  {"year": 2024, "month": 7, "date": 6, "utc": true}, {"year": 2024, "month": 7, "date": 24, "utc": true},
                  {"year": 2024, "month": 8, "date": 11, "utc": true}, {"year": 2024, "month": 8, "date": 29, "utc": true},
                  {"year": 2024, "month": 9, "date": 16, "utc": true}, {"year": 2024, "month": 10, "date": 4, "utc": true},
                  {"year": 2024, "month": 10, "date": 22, "utc": true}, {"year": 2024, "month": 11, "date": 9, "utc": true}
                ],
                "labelExpr": "abs(((datum.value - utc(2023,4,1)) / 864e5) % 90) < 0.5 ? ['jan','febr','márc','ápr','máj','jún','júl','aug','szept','okt','nov','dec'][utcmonth(datum.value)] + '.' + utcyear(datum.value) : ''",
                "tickOpacity": {"condition": {"test": "abs(((datum.value - utc(2023,4,1)) / 864e5) % 90) < 0.5", "value": 1}, "value": 0}
              }
            },
            "y": {"field": "v", "type": "quantitative", "scale": {"domain": [0, 0.5]},
              "axis": {"values": [0, 0.1, 0.2, 0.3, 0.4, 0.5], "labelExpr": "replace(format(datum.value, '.2f'), '.', ',')",
                "title": ["volumetric water content", "(cm³/cm³)"]}},
            "color": {"field": "s", "type": "nominal", "scale": {"range": ["#808080", "#404040"]},
              "legend": {"title": null, "orient": "none", "legendX": 20, "legendY": 7}},
            "strokeDash": {"field": "s", "type": "nominal", "scale": {"range": [[1, 0], [9, 5]]},
              "legend": {"title": null, "orient": "none", "legendX": 20, "legendY": 7}}
          }
        }
      ]
    },
    {
      "spacing": 47,
      "resolve": {
        "scale": {"color": "independent", "strokeDash": "independent"},
        "legend": {"color": "independent", "strokeDash": "independent"}
      },
      "hconcat": [
        {
          "spacing": 0,
          "resolve": {
            "scale": {"color": "independent", "strokeDash": "independent"},
            "legend": {"color": "independent", "strokeDash": "independent"}
          },
          "hconcat": [
            {
              "width": 1, "height": 1,
              "view": {"stroke": null, "fill": "white"},
              "data": {"values": []},
              "mark": {"type": "point", "opacity": 0},
              "encoding": {}
            },
            {
              "width": 349, "height": 205,
              "data": {"name": "d115"},
              "mark": {"type": "line", "clip": true},
              "encoding": {
                "x": {"field": "d", "type": "temporal",
                  "scale": {"type": "utc", "domain": [{"year": 2023, "month": 5, "date": 1, "utc": true}, {"year": 2024, "month": 11, "date": 17, "utc": true}]},
                  "axis": {"title": null, "grid": true,
                    "values": [
                      {"year": 2023, "month": 5, "date": 1, "utc": true}, {"year": 2023, "month": 5, "date": 19, "utc": true},
                      {"year": 2023, "month": 6, "date": 6, "utc": true}, {"year": 2023, "month": 6, "date": 24, "utc": true},
                      {"year": 2023, "month": 7, "date": 12, "utc": true}, {"year": 2023, "month": 7, "date": 30, "utc": true},
                      {"year": 2023, "month": 8, "date": 17, "utc": true}, {"year": 2023, "month": 9, "date": 4, "utc": true},
                      {"year": 2023, "month": 9, "date": 22, "utc": true}, {"year": 2023, "month": 10, "date": 10, "utc": true},
                      {"year": 2023, "month": 10, "date": 28, "utc": true}, {"year": 2023, "month": 11, "date": 15, "utc": true},
                      {"year": 2023, "month": 12, "date": 3, "utc": true}, {"year": 2023, "month": 12, "date": 21, "utc": true},
                      {"year": 2024, "month": 1, "date": 8, "utc": true}, {"year": 2024, "month": 1, "date": 26, "utc": true},
                      {"year": 2024, "month": 2, "date": 13, "utc": true}, {"year": 2024, "month": 3, "date": 2, "utc": true},
                      {"year": 2024, "month": 3, "date": 20, "utc": true}, {"year": 2024, "month": 4, "date": 7, "utc": true},
                      {"year": 2024, "month": 4, "date": 25, "utc": true}, {"year": 2024, "month": 5, "date": 13, "utc": true},
                      {"year": 2024, "month": 5, "date": 31, "utc": true}, {"year": 2024, "month": 6, "date": 18, "utc": true},
                      {"year": 2024, "month": 7, "date": 6, "utc": true}, {"year": 2024, "month": 7, "date": 24, "utc": true},
                      {"year": 2024, "month": 8, "date": 11, "utc": true}, {"year": 2024, "month": 8, "date": 29, "utc": true},
                      {"year": 2024, "month": 9, "date": 16, "utc": true}, {"year": 2024, "month": 10, "date": 4, "utc": true},
                      {"year": 2024, "month": 10, "date": 22, "utc": true}, {"year": 2024, "month": 11, "date": 9, "utc": true}
                    ],
                    "labelExpr": "abs(((datum.value - utc(2023,4,1)) / 864e5) % 90) < 0.5 ? ['jan','febr','márc','ápr','máj','jún','júl','aug','szept','okt','nov','dec'][utcmonth(datum.value)] + '.' + utcyear(datum.value) : ''",
                    "tickOpacity": {"condition": {"test": "abs(((datum.value - utc(2023,4,1)) / 864e5) % 90) < 0.5", "value": 1}, "value": 0}
                  }
                },
                "y": {"field": "v", "type": "quantitative", "scale": {"domain": [0, 0.5]},
                  "axis": {"values": [0, 0.1, 0.2, 0.3, 0.4, 0.5], "labelExpr": "replace(format(datum.value, '.2f'), '.', ',')",
                    "title": ["volumetric water content", "(cm³/cm³)"]}},
                "color": {"field": "s", "type": "nominal", "scale": {"range": ["#808080", "#404040"]},
                  "legend": {"title": null, "orient": "none", "legendX": 18, "legendY": 4}},
                "strokeDash": {"field": "s", "type": "nominal", "scale": {"range": [[1, 0], [9, 5]]},
                  "legend": {"title": null, "orient": "none", "legendX": 18, "legendY": 4}}
              }
            }
          ]
        },
        {
          "width": 330, "height": 203,
          "data": {"name": "d165"},
          "mark": {"type": "line", "clip": true},
          "encoding": {
            "x": {"field": "d", "type": "temporal",
              "scale": {"type": "utc", "domain": [{"year": 2023, "month": 5, "date": 1, "utc": true}, {"year": 2024, "month": 11, "date": 17, "utc": true}]},
              "axis": {"title": null, "grid": true,
                "values": [
                  {"year": 2023, "month": 5, "date": 1, "utc": true}, {"year": 2023, "month": 5, "date": 19, "utc": true},
                  {"year": 2023, "month": 6, "date": 6, "utc": true}, {"year": 2023, "month": 6, "date": 24, "utc": true},
                  {"year": 2023, "month": 7, "date": 12, "utc": true}, {"year": 2023, "month": 7, "date": 30, "utc": true},
                  {"year": 2023, "month": 8, "date": 17, "utc": true}, {"year": 2023, "month": 9, "date": 4, "utc": true},
                  {"year": 2023, "month": 9, "date": 22, "utc": true}, {"year": 2023, "month": 10, "date": 10, "utc": true},
                  {"year": 2023, "month": 10, "date": 28, "utc": true}, {"year": 2023, "month": 11, "date": 15, "utc": true},
                  {"year": 2023, "month": 12, "date": 3, "utc": true}, {"year": 2023, "month": 12, "date": 21, "utc": true},
                  {"year": 2024, "month": 1, "date": 8, "utc": true}, {"year": 2024, "month": 1, "date": 26, "utc": true},
                  {"year": 2024, "month": 2, "date": 13, "utc": true}, {"year": 2024, "month": 3, "date": 2, "utc": true},
                  {"year": 2024, "month": 3, "date": 20, "utc": true}, {"year": 2024, "month": 4, "date": 7, "utc": true},
                  {"year": 2024, "month": 4, "date": 25, "utc": true}, {"year": 2024, "month": 5, "date": 13, "utc": true},
                  {"year": 2024, "month": 5, "date": 31, "utc": true}, {"year": 2024, "month": 6, "date": 18, "utc": true},
                  {"year": 2024, "month": 7, "date": 6, "utc": true}, {"year": 2024, "month": 7, "date": 24, "utc": true},
                  {"year": 2024, "month": 8, "date": 11, "utc": true}, {"year": 2024, "month": 8, "date": 29, "utc": true},
                  {"year": 2024, "month": 9, "date": 16, "utc": true}, {"year": 2024, "month": 10, "date": 4, "utc": true},
                  {"year": 2024, "month": 10, "date": 22, "utc": true}, {"year": 2024, "month": 11, "date": 9, "utc": true}
                ],
                "labelExpr": "abs(((datum.value - utc(2023,4,1)) / 864e5) % 90) < 0.5 ? ['jan','febr','márc','ápr','máj','jún','júl','aug','szept','okt','nov','dec'][utcmonth(datum.value)] + '.' + utcyear(datum.value) : ''",
                "tickOpacity": {"condition": {"test": "abs(((datum.value - utc(2023,4,1)) / 864e5) % 90) < 0.5", "value": 1}, "value": 0}
              }
            },
            "y": {"field": "v", "type": "quantitative", "scale": {"domain": [0, 0.5]},
              "axis": {"values": [0, 0.1, 0.2, 0.3, 0.4, 0.5], "labelExpr": "replace(format(datum.value, '.2f'), '.', ',')",
                "title": ["volumetric water content", "(cm³/cm³)"]}},
            "color": {"field": "s", "type": "nominal", "scale": {"range": ["#808080", "#404040"]},
              "legend": {"title": null, "orient": "none", "legendX": 13, "legendY": 5}},
            "strokeDash": {"field": "s", "type": "nominal", "scale": {"range": [[1, 0], [9, 5]]},
              "legend": {"title": null, "orient": "none", "legendX": 13, "legendY": 5}}
          }
        }
      ]
    }
  ],
  "spacing": 38
}
